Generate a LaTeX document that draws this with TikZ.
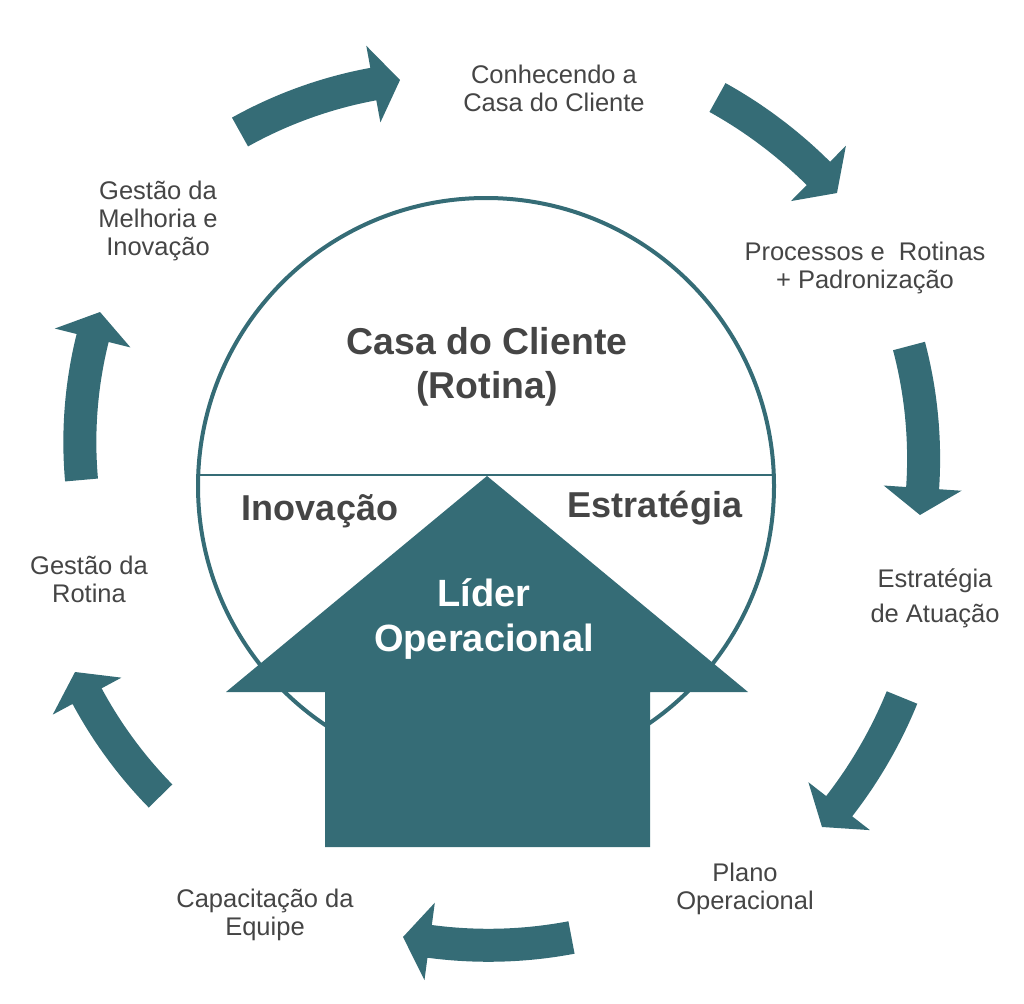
\documentclass[tikz,border=0pt]{standalone}
\usepackage{fontspec}
\setmainfont{Liberation Sans}
\definecolor{teal1}{HTML}{356C76}
\definecolor{txt}{HTML}{454545}
\tikzset{
 lbl/.style={text=txt, align=center, font=\fontsize{25.5}{28}\selectfont, inner sep=0pt},
 lblwide/.style={text=txt, align=center, font=\fontsize{25.5}{35}\selectfont, inner sep=0pt},
 big/.style={text=txt, align=center, font=\bfseries\fontsize{37.4}{44}\selectfont, inner sep=0pt},
 mid/.style={text=txt, font=\bfseries\fontsize{36}{40}\selectfont, inner sep=0pt},
 wht/.style={text=white, align=center, font=\bfseries\fontsize{38}{45}\selectfont, inner sep=0pt},
 cyca/.style={fill=teal1},
 ring/.style={draw=teal1, line width=4pt},
 divider/.style={draw=teal1, line width=2pt},
 house/.style={fill=teal1}
}
\newcommand\cycarrow[6]{% name, tail x, tail y, tip x, tip y, radius (image px)
 \pgfmathsetmacro\qMx{(#2+#4)/2}
 \pgfmathsetmacro\qMy{(#3+#5)/2}
 \pgfmathsetmacro\qDx{#4-#2}
 \pgfmathsetmacro\qDy{#5-#3}
 \pgfmathsetmacro\qCl{100*sqrt((\qDx/100)^2+(\qDy/100)^2)}
 \pgfmathsetmacro\qHd{100*sqrt((#6/100)^2-(\qCl/200)^2)}
 \pgfmathsetmacro\qPx{-\qDy/\qCl}
 \pgfmathsetmacro\qPy{\qDx/\qCl}
 \pgfmathsetmacro\qSg{(((487-\qMx)*\qPx+(500-\qMy)*\qPy)>0) ? 1 : -1}
 \pgfmathsetmacro\qCx{\qMx+\qSg*\qHd*\qPx}
 \pgfmathsetmacro\qCy{\qMy+\qSg*\qHd*\qPy}
 \pgfmathsetmacro\qA{atan2(\qCy-#3,#2-\qCx)}
 \pgfmathsetmacro\qB{atan2(\qCy-#5,#4-\qCx)}
 \pgfmathsetmacro\qB{\qB+360*((\qB-\qA)<-180)-360*((\qB-\qA)>180)}
 \pgfmathsetmacro\qDir{(\qB>\qA) ? 1 : -1}
 \pgfmathsetmacro\qAb{\qB-\qDir*27/#6*57.2958}
 \pgfmathsetmacro\qRo{#6+16.5}
 \pgfmathsetmacro\qRi{#6-16.5}
 \pgfmathsetmacro\qHo{#6+39}
 \pgfmathsetmacro\qHi{#6-39}
 \fill[cyca] ([shift={(\qCx,-\qCy)}]\qA:\qRo) arc[start angle=\qA, end angle=\qAb, radius=\qRo]
   -- ([shift={(\qCx,-\qCy)}]\qAb:\qHo) -- ([shift={(\qCx,-\qCy)}]\qB:#6) coordinate (#1)
   -- ([shift={(\qCx,-\qCy)}]\qAb:\qHi) -- ([shift={(\qCx,-\qCy)}]\qAb:\qRi)
   arc[start angle=\qAb, end angle=\qA, radius=\qRi] -- cycle;
}
\begin{document}
\begin{tikzpicture}[x=1pt,y=1pt]
\useasboundingbox (0,0) rectangle (1024,-1003);
% central circle
\draw[ring] (486,-486) circle[radius=288];
\coordinate (dl) at (198.2,-475);
\coordinate (dr) at (773.8,-475);
\draw[divider] (dl) -- (dr);
% house arrow
\fill[house] (487,-476) coordinate (apex) -- (748,-692) -- (650,-692) -- (650,-847)
  -- (325,-847) -- (325,-692) -- (226,-692) -- cycle;
% cycle arrows
\cycarrow{a1}{240}{132}{400}{80}{436}
\cycarrow{a2}{717.5}{97.5}{837}{193}{460}
\cycarrow{a3}{909}{346}{920}{515}{441}
\cycarrow{a4}{902}{697.5}{822}{827}{460}
\cycarrow{a5}{571.5}{937.5}{403}{937}{445}
\cycarrow{a6}{160.5}{796}{75}{672}{443}
\cycarrow{a7}{81.5}{480}{100}{312}{430}
% central texts
\node[big] (casa) at (487,-366.5) {Casa do Cliente\\(Rotina)};
\node[mid] (inov) at (320,-511) {Inovação};
\node[mid] (estr) at (655,-508) {Estratégia};
\node[wht] (lider) at (484,-619.5) {Líder\\Operacional};
% outer labels
\node[lbl] (l1) at (554,-88) {Conhecendo a\\Casa do Cliente};
\node[lbl] (l2) at (865,-268) {Processos e\ \ Rotinas\\+ Padronização};
\node[lblwide] (l3) at (935,-598) {Estratégia\\de Atuação};
\node[lbl] (l4) at (745,-889) {Plano\\Operacional};
\node[lbl] (l5) at (265,-915) {Capacitação da\\Equipe};
\node[lbl] (l6) at (89,-579) {Gestão da\\Rotina};
\node[lbl] (l7) at (158,-221) {Gestão da\\Melhoria e\\Inovação};
\end{tikzpicture}
\end{document}
